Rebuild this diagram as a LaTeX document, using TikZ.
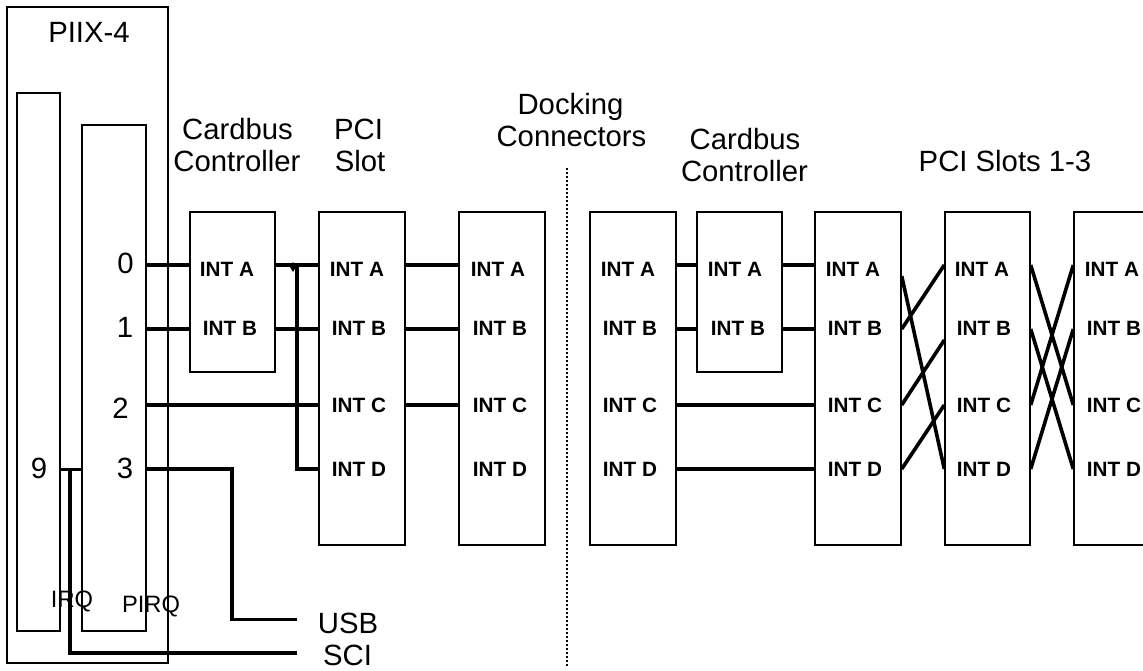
\documentclass[tikz,border=0pt]{standalone}
\usepackage{fontspec}
\setmainfont{Liberation Sans}
\usetikzlibrary{calc}
\tikzset{
  x=1pt,y=-1pt,
  blk/.style={draw=black,line width=1.4pt,fill=none,inner sep=0pt},
  wire/.style={draw=black,line width=3.6pt},
  tiny wire/.style={draw=black,line width=3pt},
  lab/.style={font=\fontsize{29.3}{29.3}\selectfont,inner sep=0pt,anchor=base},
  irq/.style={font=\fontsize{23.7}{23.7}\selectfont,inner sep=0pt,anchor=base},
  pin/.style={font=\fontsize{20.7}{20.7}\bfseries\selectfont,inner sep=0pt,anchor=base},
}
\newcommand{\bx}[5]{\node[blk,minimum width={(#4-#2)*1pt},minimum height={(#5-#3)*1pt}] (#1) at ({(#2+#4)/2},{(#3+#5)/2}) {};}
\begin{document}
\begin{tikzpicture}
\useasboundingbox (0,0) rectangle (1143,671);
\clip (0,0) rectangle (1143,671);
\fill[white] (0,0) rectangle (1143,671);
% row references
\coordinate (rA) at (0,265);
\coordinate (rB) at (0,329);
\coordinate (rC) at (0,405);
\coordinate (rD) at (0,469);
\coordinate (rU) at (0,619.3);
\coordinate (rS) at (0,652.7);
\coordinate (cUsb) at (232,0);
\coordinate (cSci) at (70,0);
\coordinate (cJ) at (297,0);
% boxes
\bx{outer}{7}{7}{168}{663}
\bx{irqb}{17}{93}{60}{631}
\bx{pirqb}{82}{125}{146}{631}
\bx{cb}{190}{212}{275}{372}
\bx{pci}{319}{212}{405}{545}
\bx{dockL}{459}{212}{545}{545}
\bx{dockR}{590}{212}{676}{545}
\bx{cbR}{697}{212}{782}{372}
\bx{s0}{815}{212}{901}{545}
\bx{s1}{945}{212}{1030}{545}
\bx{s2}{1074}{212}{1160}{545}
% left wires
\draw[wire] (pirqb.east |- rA) -- (cb.west |- rA);
\draw[wire] (pirqb.east |- rB) -- (cb.west |- rB);
\draw[wire] (cb.east |- rA) -- (pci.west |- rA);
\draw[wire] (cb.east |- rB) -- (pci.west |- rB);
\draw[wire] (pirqb.east |- rC) -- (pci.west |- rC);
\draw[wire] (cJ |- rA) -- (cJ |- rD) -- (pci.west |- rD);
\fill (293,262) -- (296,267) -- (293,272) -- (290,267) -- cycle;
\draw[wire,line join=miter] (pirqb.east |- rD) -- (cUsb |- rD) -- (cUsb |- rU) -- (cJ |- rU);
\draw[tiny wire] (irqb.east |- rD) -- (pirqb.west |- rD);
\draw[wire,line join=miter] (cSci |- rD) -- (cSci |- rS) -- (cJ |- rS);
% middle wires
\draw[wire] (pci.east |- rA) -- (dockL.west |- rA);
\draw[wire] (pci.east |- rB) -- (dockL.west |- rB);
\draw[wire] (pci.east |- rC) -- (dockL.west |- rC);
\draw[wire] (dockR.east |- rA) -- (cbR.west |- rA);
\draw[wire] (dockR.east |- rB) -- (cbR.west |- rB);
\draw[wire] (cbR.east |- rA) -- (s0.west |- rA);
\draw[wire] (cbR.east |- rB) -- (s0.west |- rB);
\draw[wire] (dockR.east |- rC) -- (s0.west |- rC);
\draw[wire] (dockR.east |- rD) -- (s0.west |- rD);
% crossings
\coordinate (rA2) at (0,276);
\coordinate (rC2) at (0,340);
\draw[wire] (s0.east |- rA2) -- (s1.west |- rD);
\draw[wire] (s0.east |- rB) -- (s1.west |- rA);
\draw[wire] (s0.east |- rC) -- (s1.west |- rC2);
\draw[wire] (s0.east |- rD) -- (s1.west |- rC);
\draw[wire] (s1.east |- rA) -- (s2.west |- rC);
\draw[wire] (s1.east |- rB) -- (s2.west |- rD);
\draw[wire] (s1.east |- rC) -- (s2.west |- rA);
\draw[wire] (s1.east |- rD) -- (s2.west |- rB);
% divider
\coordinate (dT) at (567,168);
\coordinate (dB) at (567,667);
\draw[black,line width=1.3pt,dash pattern=on 2pt off 2pt] (dT) -- (dB);
% labels
\node[lab] (tP) at (89,43) {PIIX-4};
\node[lab] (t1) at (237.5,140) {Cardbus};
\node[lab] (t2) at (237,172) {Controller};
\node[lab] (t3) at (358.5,140) {PCI};
\node[lab] (t4) at (360,172) {Slot};
\node[lab] (t5) at (570.5,115) {Docking};
\node[lab] (t6) at (571.5,147) {Connectors};
\node[lab] (t7) at (745,150) {Cardbus};
\node[lab] (t8) at (744.5,182) {Controller};
\node[lab] (t9) at (1005,172) {PCI Slots 1-3};
\node[lab] (n0) at (125.5,273) {0};
\node[lab] (n1) at (125,337) {1};
\node[lab] (n2) at (120.5,418) {2};
\node[lab] (n3) at (125,478) {3};
\node[lab] (n9) at (39,478) {9};
\node[irq] (tI) at (72,607) {IRQ};
\node[irq] (tQ) at (151,612) {PIRQ};
\node[lab] (tU) at (348,633) {USB};
\node[lab] (tS) at (347.5,665) {SCI};
% pin labels
\node[pin] (a1) at (227,276) {INT A};
\node[pin] (b1) at (230,335) {INT B};
\foreach \nm/\xa/\xb in {p/357/359,dl/498/500,dr/628/630,s/853/855,t/982/984,u/1112/1114}{
  \node[pin] (\nm A) at (\xa,276) {INT A};
  \node[pin] (\nm B) at (\xb,335) {INT B};
  \node[pin] (\nm C) at (\xb,412) {INT C};
  \node[pin] (\nm D) at (\xb,476) {INT D};
}
\node[pin] (a2) at (735,276) {INT A};
\node[pin] (b2) at (738,335) {INT B};
\end{tikzpicture}
\end{document}
